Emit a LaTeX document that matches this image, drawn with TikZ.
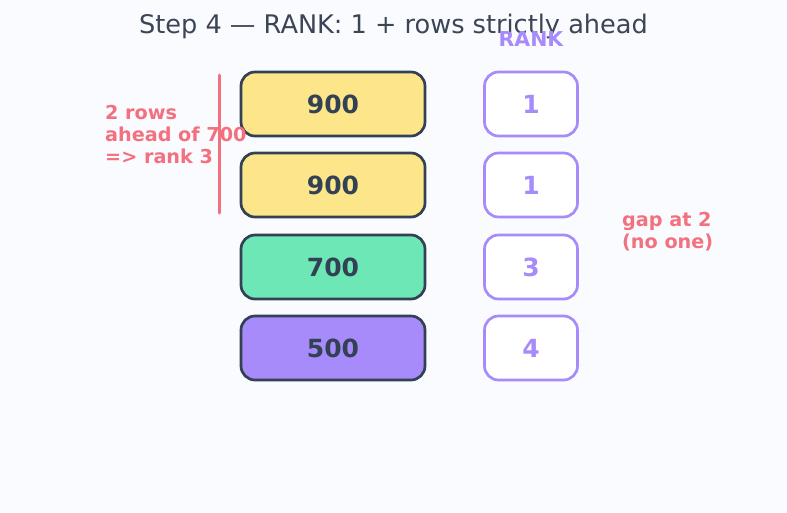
\documentclass[tikz,border=0pt]{standalone}
\usepackage{fontspec}
\setmainfont{DejaVu Sans}
\usepackage{tikz}

\definecolor{pagebg}{HTML}{FAFBFE}
\definecolor{slate}{HTML}{334155}
\definecolor{titlecol}{HTML}{3B4556}
\definecolor{violet}{HTML}{A78BFA}
\definecolor{rose}{HTML}{F3717F}
\definecolor{yellowfill}{HTML}{FDE68A}
\definecolor{greenfill}{HTML}{6EE7B7}

\begin{document}
\begin{tikzpicture}[x=1pt, y=-1pt]
    % Styles
    \tikzstyle{val} = [rectangle, rounded corners=14pt, draw=slate, line width=2.7pt, minimum width=184pt, minimum height=64pt, text=slate, font=\fontsize{25}{29}\selectfont\bfseries]
    \tikzstyle{rankbox} = [rectangle, rounded corners=14pt, draw=violet, line width=2.7pt, fill=white, minimum width=93pt, minimum height=64pt, text=violet, font=\fontsize{25}{29}\selectfont\bfseries]
    \tikzstyle{note} = [anchor=north west, inner sep=0pt, align=left, text=rose, font=\fontsize{19.2}{21.8}\selectfont\bfseries]

    % Page
    \path[fill=pagebg, use as bounding box] (0,0) rectangle (787,512);

    % Title and column head
    \node[anchor=base, text=titlecol, font=\fontsize{25.6}{30}\selectfont] (title) at (393.5,33) {Step 4 — RANK: 1 + rows strictly ahead};
    \node[anchor=base, text=violet, font=\fontsize{20.5}{24}\selectfont\bfseries] (ranklbl) at (531,46) {RANK};

    % Values
    \node[val, fill=yellowfill] (v1) at (333,104) {900};
    \node[val, fill=yellowfill] (v2) at (333,185) {900};
    \node[val, fill=greenfill] (v3) at (333,267) {700};
    \node[val, fill=violet] (v4) at (333,348) {500};

    % Ranks
    \node[rankbox] (r1) at (531,104) {1};
    \node[rankbox] (r2) at (531,185) {1};
    \node[rankbox] (r3) at (531,267) {3};
    \node[rankbox] (r4) at (531,348) {4};

    % Annotations
    \coordinate (bartop) at (219,75);
    \coordinate (barbot) at (219,213);
    \draw[rose, line width=3pt, line cap=round] (bartop) -- (barbot);
    \node[note] (ahead) at (105,105) {2 rows\\ahead of 700\\=> rank 3};
    \node[note] (gap) at (622,212.5) {gap at 2\\(no one)};
\end{tikzpicture}
\end{document}
